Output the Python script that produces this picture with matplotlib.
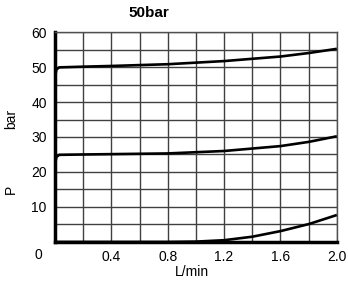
import matplotlib
matplotlib.use("Agg")
import matplotlib.pyplot as plt
import numpy as np

plt.rcParams['font.family'] = ['Liberation Sans', 'DejaVu Sans']

flow_top = [0.0, 0.01, 0.03, 0.2, 0.4, 0.8, 1.2, 1.6, 1.8, 2.0]
p_top = [47.0, 49.3, 49.9, 50.1, 50.3, 50.8, 51.7, 53.0, 54.0, 55.2]

flow_mid = [0.0, 0.01, 0.03, 0.2, 0.4, 0.8, 1.2, 1.6, 1.8, 2.0]
p_mid = [22.0, 24.3, 24.9, 25.0, 25.1, 25.3, 26.0, 27.4, 28.6, 30.2]

flow_low = [0.0, 0.8, 1.0, 1.2, 1.4, 1.6, 1.8, 2.0]
p_low = [0.0, 0.0, 0.1, 0.5, 1.5, 3.1, 5.1, 7.7]

x_ticks = [0.4, 0.8, 1.2, 1.6, 2.0]
x_tick_labels = ["0.4", "0.8", "1.2", "1.6", "2.0"]
y_ticks = [10, 20, 30, 40, 50, 60]
y_tick_labels = ["10", "20", "30", "40", "50", "60"]

fig = plt.figure(figsize=(3.48, 2.86), dpi=100)
ax = fig.add_axes([0.158, 0.154, 0.810, 0.734])

ax.set_xlim(0, 2.0)
ax.set_ylim(0, 60)
grid_x = np.arange(0, 2.01, 0.2)
grid_y = np.arange(0, 60.1, 5)
ax.set_xticks(grid_x)
ax.set_yticks(grid_y)
ax.grid(True, color='#404040', linewidth=1.0)
ax.set_axisbelow(True)

xl = dict(zip([round(v, 1) for v in x_ticks], x_tick_labels))
yl = dict(zip(y_ticks, y_tick_labels))
ax.set_xticklabels([xl.get(round(v, 1), "") for v in grid_x])
ax.set_yticklabels([yl.get(int(round(v)), "") for v in grid_y])
ax.tick_params(length=0, labelsize=10, pad=6)

for s in ['top', 'right']:
    ax.spines[s].set_color('#505050')
    ax.spines[s].set_linewidth(1.0)
for s in ['left', 'bottom']:
    ax.spines[s].set_color('black')
    ax.spines[s].set_linewidth(2.5)

ax.plot(flow_top, p_top, color='black', linewidth=1.9, solid_capstyle='butt')
ax.plot(flow_mid, p_mid, color='black', linewidth=1.9, solid_capstyle='butt')
ax.plot(flow_low, p_low, color='black', linewidth=1.9, solid_capstyle='butt')

fig.text(38/348, 1 - 255/286, "0", ha='center', va='center', fontsize=10)
fig.text(11/348, 1 - 189/286, "P", ha='center', va='center', fontsize=10, rotation=90)
fig.text(11/348, 1 - 119/286, "bar", ha='center', va='center', fontsize=10, rotation=90)
fig.text(192/348, 1 - 272/286, "L/min", ha='center', va='center', fontsize=10)
fig.text(149/348, 1 - 13/286, "50bar", ha='center', va='center', fontsize=11, fontweight='bold')

fig.savefig("out.png", dpi=100)
